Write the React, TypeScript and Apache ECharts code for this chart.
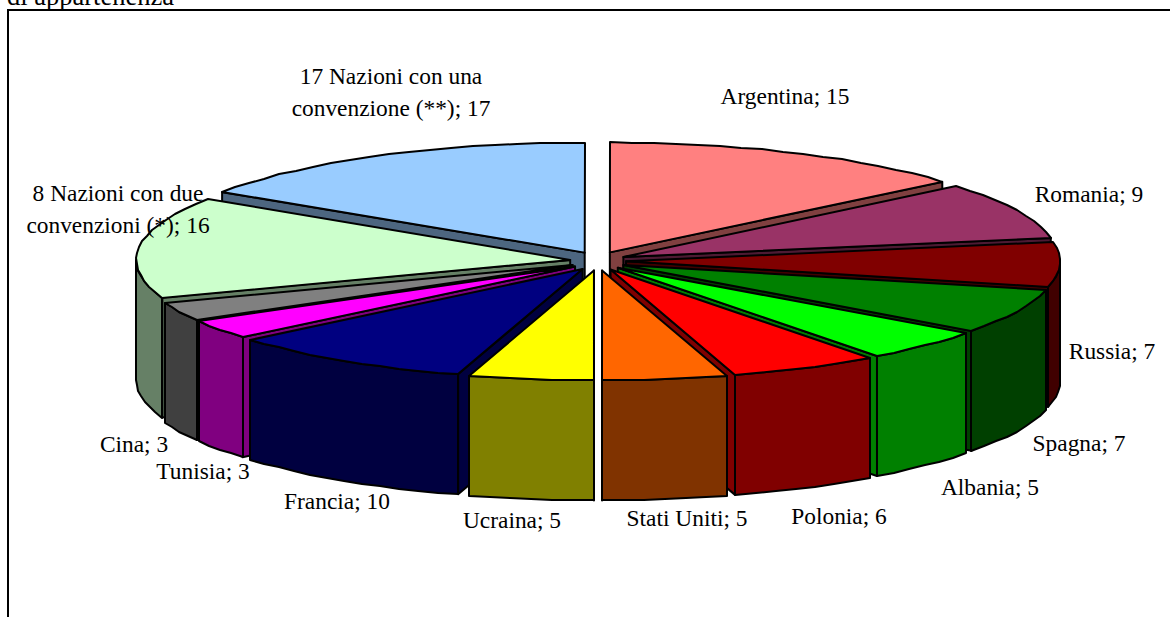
import React, { useEffect, useRef } from "react";
import * as echarts from "echarts";

const categories = [
  "Argentina", "Romania", "Russia", "Spagna", "Albania", "Polonia", "Stati Uniti",
  "Ucraina", "Francia", "Tunisia", "Cina", "8 Nazioni con due\nconvenzioni (*)",
  "17 Nazioni con una\nconvenzione (**)",
];
const values = [15, 9, 7, 7, 5, 6, 5, 5, 10, 3, 3, 16, 17];
const topColors = [
  "#FF8080", "#993366", "#800000", "#008000", "#00FF00", "#FF0000", "#FF6600",
  "#FFFF00", "#000080", "#FF00FF", "#808080", "#CCFFCC", "#99CCFF",
];
const sideColors = [
  "#804040", "#4D1A33", "#400000", "#004000", "#008000", "#800000", "#803300",
  "#808000", "#000040", "#800080", "#404040", "#668066", "#4D6680",
];
const titleTail = "di appartenenza";

// label anchor (centre x, centre y of the first line)
const labelAnchors: [number, number][] = [
  [785, 93], [1089, 191], [1112, 348], [1079, 440], [990, 484], [839, 513], [687, 515],
  [512, 517], [337, 498], [203, 468], [134, 441], [118, 190], [391, 73],
];

const CX = 598, CY = 261, RX = 434, RY = 110, DEPTH = 120, EX = 28, EY = 9.5;
const FONT = '23.4px "Liberation Serif", "Times New Roman", serif';
const TITLE_FONT = '26.5px "Liberation Serif", "Times New Roman", serif';
const LINE_H = 32;
const rad = (d: number) => (d * Math.PI) / 180;

const total = values.reduce((a, b) => a + b, 0);
let acc = 0;
const slices = values.map((v, i) => {
  const start = (acc / total) * 360;
  acc += v;
  const end = (acc / total) * 360;
  return { i, v, start, end, mid: (start + end) / 2 };
});
const drawOrder = [...slices].sort((a, b) => Math.cos(rad(b.mid)) - Math.cos(rad(a.mid)));

function arc(ax: number, ay: number, from: number, to: number, dy = 0) {
  const pts: number[][] = [];
  const n = Math.max(1, Math.ceil((to - from) / 3));
  for (let k = 0; k <= n; k++) {
    const t = rad(from + ((to - from) * k) / n);
    pts.push([Math.round(ax + RX * Math.sin(t)), Math.round(ay - RY * Math.cos(t) + dy)]);
  }
  return pts;
}

function renderItem(_p: any, api: any) {
  const idx = api.value(0);
  const start = api.value(1);
  const end = api.value(2);
  const mid = (start + end) / 2;
  const ax = CX + EX * Math.sin(rad(mid));
  const ay = CY - EY * Math.cos(rad(mid));
  const fill = topColors[idx];
  const side = sideColors[idx];
  const st = { stroke: "#000", lineWidth: 2, lineJoin: "round" };
  const children: any[] = [];
  const wall = (a: number) => {
    const x = ax + RX * Math.sin(rad(a));
    const y = ay - RY * Math.cos(rad(a));
    children.push({
      type: "polygon",
      shape: { points: [[ax, ay], [x, y], [x, y + DEPTH], [ax, ay + DEPTH]] },
      style: { ...st, fill: side },
    });
  };
  if (start >= 180) wall(start);
  if (end <= 180) wall(end);
  const a0 = Math.max(start, 90), a1 = Math.min(end, 270);
  if (a1 > a0) {
    const topArc = arc(ax, ay, a0, a1);
    const botArc = arc(ax, ay, a0, a1, DEPTH).reverse();
    children.push({
      type: "polygon",
      shape: { points: [...topArc, ...botArc] },
      style: { ...st, fill: side },
    });
  }
  children.push({
    type: "polygon",
    shape: { points: [[ax, ay], ...arc(ax, ay, start, end)] },
    style: { ...st, fill },
  });
  return { type: "group", children };
}

export default function App() {
  const ref = useRef<HTMLDivElement>(null);
  useEffect(() => {
    const chart = echarts.init(ref.current!, undefined, { renderer: "svg" });
    const labels = categories.map((c, i) => ({
      type: "text",
      z: 20,
      x: labelAnchors[i][0],
      y: labelAnchors[i][1] - 13,
      style: {
        text: `${c}; ${values[i]}`,
        fill: "#000",
        font: FONT,
        textAlign: "center",
        lineHeight: LINE_H,
      },
    }));
    chart.setOption({
      animation: false,
      backgroundColor: "#fff",
      graphic: [
        {
          type: "rect",
          z: 0,
          shape: { x: 8, y: 10, width: 1200, height: 660 },
          style: { fill: "#fff", stroke: "#000", lineWidth: 2 },
        },
        {
          type: "text",
          z: 20,
          x: 7,
          y: -18,
          style: { text: titleTail, fill: "#000", font: TITLE_FONT },
        },
        ...labels,
      ],
      series: [
        {
          type: "custom",
          coordinateSystem: "none",
          z: 5,
          silent: true,
          renderItem,
          data: drawOrder.map((s) => ({ name: categories[s.i], value: [s.i, s.start, s.end, s.v] })),
        },
      ],
    });
    return () => chart.dispose();
  }, []);
  return <div ref={ref} style={{ position: "fixed", left: 0, top: 0, width: 1170, height: 617 }} />;
}
